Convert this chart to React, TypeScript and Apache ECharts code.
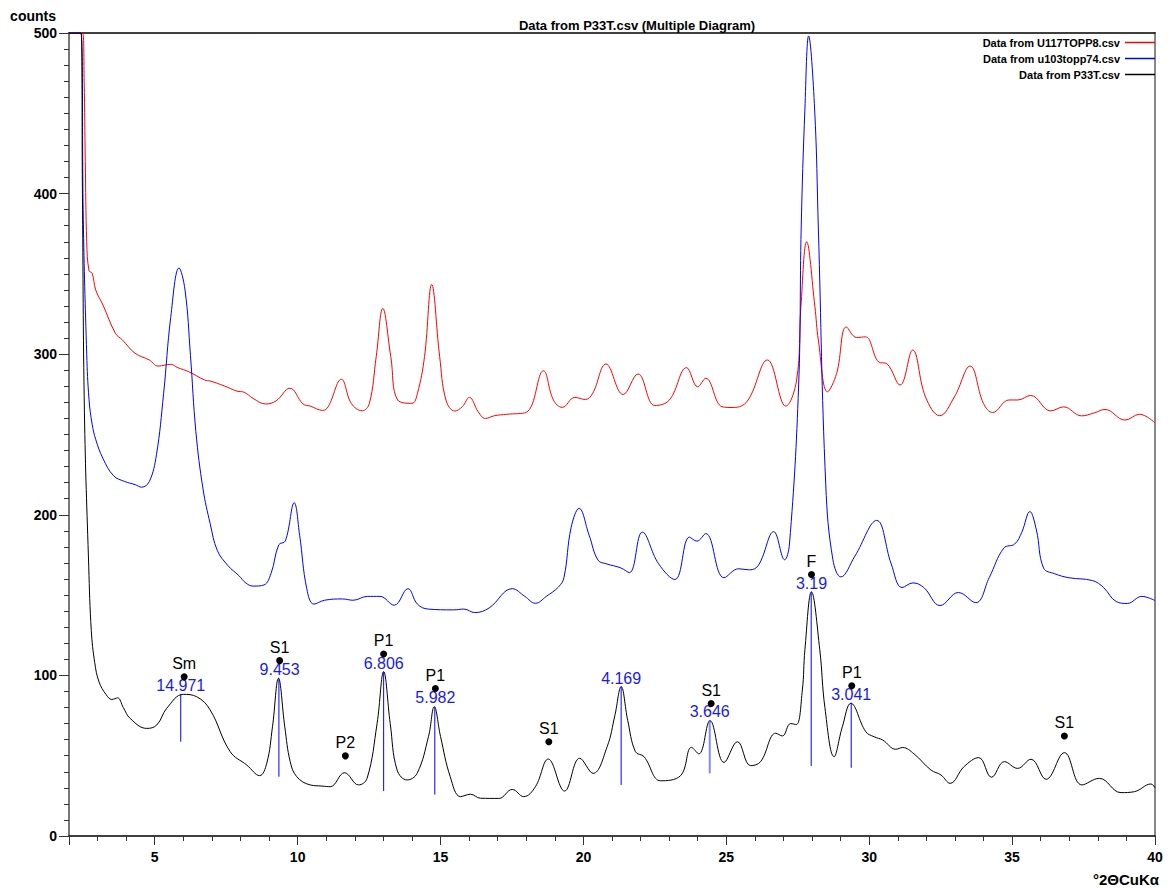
import React, { useEffect, useRef } from 'react';
import * as echarts from 'echarts';

const FONT = '"Liberation Sans", Arial, Helvetica, sans-serif';

// Series names
const seriesNames = ['Data from U117TOPP8.csv', 'Data from u103topp74.csv', 'Data from P33T.csv'];

// Red curve: U117TOPP8 (°2θ, counts)
const u117: [number, number][] = [
  [2, 500], [2.48, 500], [2.53, 470], [2.57, 420], [2.62, 370], [2.7, 352], [2.81, 350.4], [2.935, 340],
  [3.19, 330.6], [3.625, 313], [3.874, 308.8], [4.31, 300.6], [4.81, 296.4], [5.12, 292.6], [5.56, 293.7],
  [5.81, 291.6], [6.19, 289.1], [6.75, 283.9], [6.94, 283.3], [7.44, 280.2], [7.88, 277], [8.13, 276.3],
  [8.44, 272.5], [8.88, 269], [9.25, 271], [9.73, 278.8], [10.19, 269], [10.44, 267.7], [10.88, 265],
  [11.07, 267.3], [11.53, 284.4], [11.88, 269.3], [12.26, 264.8], [12.51, 269.3], [12.75, 298.5],
  [12.98, 328.5], [13.26, 298.5], [13.5, 271.5], [14.0, 269.4], [14.19, 275.5], [14.44, 298.5],
  [14.69, 343.4], [14.97, 298.5], [15.19, 271.5], [15.5, 264.6], [15.76, 267.3], [16.01, 273.1],
  [16.32, 264.1], [16.57, 260], [16.89, 261.7], [17.32, 262.6], [18.0, 263.8], [18.6, 289.7],
  [18.95, 271.5], [19.26, 266.9], [19.7, 273.1], [20.07, 271.8], [20.32, 275.5], [20.79, 293.9],
  [21.39, 274.9], [21.91, 287.7], [22.5, 268], [23.01, 271.5], [23.61, 291.6], [24.0, 279.7],
  [24.28, 285], [24.85, 267.3], [25.24, 266.8], [25.74, 270.9], [26.44, 296.4], [27.08, 267.7],
  [27.46, 283.9], [27.61, 329.5], [27.81, 370], [28.1, 329.5], [28.22, 308.8], [28.54, 276.6],
  [28.86, 288], [29.2, 317], [29.56, 310.4], [29.87, 310.8], [30.32, 295.3], [30.63, 293.9],
  [31.08, 280.8], [31.52, 302.6], [31.97, 273.4], [32.47, 261.7], [32.98, 273.4], [33.53, 292.6],
  [34.0, 269.3], [34.32, 263.7], [34.89, 271.5], [35.2, 271.5], [35.65, 274.3], [36.35, 264.7],
  [36.8, 267.2], [37.43, 261.6], [37.88, 263.5], [38.25, 265.6], [38.95, 259], [39.46, 262.6],
  [40, 257.2],
];

// Blue curve: u103topp74
const u103: [number, number][] = [
  [2, 500], [2.42, 500], [2.5, 384], [2.62, 300], [2.7, 272], [2.81, 256.4], [2.935, 246.9], [3.19, 235],
  [3.56, 224.3], [3.94, 220.8], [4.31, 218.8], [4.54, 217.2], [4.81, 220.7], [5.06, 237.4], [5.31, 275.4],
  [5.56, 323], [5.85, 353.7], [6.06, 340], [6.25, 299.3], [6.44, 251.7], [6.69, 216], [6.94, 194.5],
  [7.19, 177.8], [7.57, 168.2], [7.94, 162.2], [8.19, 157.5], [8.44, 155.6], [8.82, 156.3], [9.07, 163.5],
  [9.34, 181.3], [9.57, 183.7], [9.88, 207.5], [10.07, 187.3], [10.32, 154], [10.57, 144.4],
  [10.94, 146.8], [11.57, 147.6], [11.94, 146.8], [12.44, 149.2], [12.88, 149.2], [13.38, 143.7],
  [13.86, 154], [14.19, 144.4], [14.57, 141.3], [15.45, 140.8], [15.82, 141.3], [16.2, 139.1],
  [16.7, 142], [17.51, 154], [17.95, 149.2], [18.32, 144.9], [18.7, 149.2], [19.13, 155.1], [19.32, 161],
  [19.57, 192.1], [19.85, 204], [20.2, 187.3], [20.51, 171.8], [20.82, 169.4], [21.3, 167], [21.61, 164],
  [22.06, 189.2], [22.63, 169.5], [23.2, 159.7], [23.71, 186.1], [23.97, 183.6], [24.28, 188.3],
  [24.92, 160.8], [25.43, 166.4], [25.81, 165.7], [26.13, 168.7], [26.66, 189.5], [27.04, 172],
  [27.21, 181.8], [27.53, 280.2], [27.62, 378.6], [27.75, 452.7], [27.88, 498.2], [28.09, 452.7],
  [28.22, 378.6], [28.48, 218.6], [28.73, 172], [29.01, 161.3], [29.5, 174.3], [30.26, 196.5],
  [30.77, 169.4], [31.15, 154.7], [31.53, 157.6], [31.91, 154.7], [32.48, 143.5], [33.12, 151.6],
  [33.73, 145.3], [34.2, 160.9], [34.71, 179.3], [35.09, 181.8], [35.34, 189.2], [35.62, 202],
  [35.85, 190.5], [36.1, 166.9], [36.49, 163.3], [36.99, 160.8], [37.82, 159], [38.2, 154.7],
  [38.64, 146], [39.03, 144.8], [39.54, 149.2], [40, 146.6],
];

// Black curve: P33T
const p33t: [number, number][] = [
  [2, 500], [2.42, 500], [2.47, 400], [2.54, 263.5], [2.69, 168], [2.78, 128], [2.9, 108], [3.05, 96],
  [3.3, 88], [3.5, 85], [3.7, 86], [3.9, 80], [4.14, 73.2], [4.72, 67], [5.07, 69.1], [5.42, 79.5],
  [6.0, 88.2], [6.47, 86.7], [6.94, 78.5], [7.64, 52.5], [8.22, 44.2], [8.67, 37.6], [8.92, 45.3],
  [9.12, 68], [9.33, 98.2], [9.55, 68], [9.74, 46.3], [9.97, 36.9], [10.44, 31.8], [10.85, 31.1],
  [11.14, 30.7], [11.64, 39.4], [12.13, 31.8], [12.43, 35.9], [12.78, 70], [13.01, 102.3], [13.24, 70],
  [13.48, 41.1], [13.83, 34.9], [14.18, 39], [14.58, 62], [14.78, 80.5], [15.0, 62], [15.34, 36.9],
  [15.7, 24.5], [16.05, 26], [16.4, 23.5], [17.04, 23.4], [17.51, 29], [17.91, 24.5], [18.32, 30.7],
  [18.77, 47.9], [19.34, 28], [19.87, 48.4], [20.34, 39], [20.83, 55.6], [21.1, 75], [21.32, 93],
  [21.55, 72], [21.82, 52.5], [22.12, 49.4], [22.7, 34.4], [23.4, 37.6], [23.78, 55.2], [24.04, 51.1],
  [24.43, 71.8], [24.92, 45.8], [25.39, 58.7], [25.85, 43.8], [26.2, 46.3], [26.73, 64], [26.96, 62.3],
  [27.25, 70], [27.45, 69.4], [27.66, 90.9], [27.75, 116], [27.98, 152], [28.27, 116], [28.45, 80],
  [28.77, 49.4], [29.06, 68], [29.36, 82.6], [29.88, 64.9], [30.17, 61.8], [30.47, 59.8], [30.93, 54],
  [31.17, 55.1], [31.57, 51.1], [32.16, 41.1], [32.51, 38], [32.83, 32.8], [33.32, 43.2], [33.83, 48.8],
  [34.28, 36.6], [34.73, 46.3], [35.19, 42.1], [35.66, 47.8], [36.19, 35.3], [36.83, 51.9],
  [37.44, 31.8], [38.05, 35.9], [38.81, 27], [39.28, 27.6], [39.86, 32.4], [40, 30],
];

// d-spacing marker lines: position, bottom, top
const dLineX = [5.91, 9.345, 13.01, 14.8, 21.32, 24.42, 27.97, 29.37];
const dLineBottom = [58.7, 36.9, 28, 25.8, 31.8, 39, 43.6, 42.5];
const dLineTop = [88.4, 98.1, 102.3, 80.4, 93, 72.2, 152, 83];

// d-spacing labels
const dText = ['14.971', '9.453', '6.806', '5.982', '4.169', '3.646', '3.19', '3.041'];
const dTextX = [5.91, 9.37, 13.01, 14.82, 21.32, 24.42, 27.98, 29.37];
const dTextY = [93.6, 103.4, 107.6, 86.1, 98.1, 77.4, 157.2, 87.8];

// Mineral identification marks
const mineral = ['Sm', 'S1', 'P2', 'P1', 'P1', 'S1', 'S1', 'F', 'P1', 'S1'];
const mineralX = [6.03, 9.37, 11.67, 13.01, 14.82, 18.79, 24.47, 27.98, 29.39, 36.83];
const mineralY = [99.1, 109.2, 49.9, 113.3, 91.8, 58.7, 82.5, 162.8, 93.5, 62.3];

// Axis ticks
const xMajor = [2, 5, 10, 15, 20, 25, 30, 35, 40];
const xLabels = [5, 10, 15, 20, 25, 30, 35, 40];
const xMinor = [3, 4, 6, 7, 8, 9, 11, 12, 13, 14, 16, 17, 18, 19, 21, 22, 23, 24, 26, 27, 28, 29, 31, 32, 33, 34, 36, 37, 38, 39];

export default function App() {
  const ref = useRef<HTMLDivElement>(null);
  useEffect(() => {
    const chart = echarts.init(ref.current!, null, { renderer: 'svg' });
    const lineBase = (name: string, data: [number, number][], color: string, z: number) => ({
      name,
      type: 'line',
      data,
      symbol: 'none',
      smooth: 0.4,
      z,
      color,
      lineStyle: { color, width: 1 },
      itemStyle: { color },
      clip: true,
    });
    const option: any = {
      animation: false,
      backgroundColor: '#ffffff',
      textStyle: { fontFamily: FONT },
      title: {
        text: 'Data from P33T.csv (Multiple Diagram)',
        left: 632,
        top: 14,
        textAlign: 'center',
        textStyle: { fontFamily: FONT, fontSize: 13, fontWeight: 'bold', color: '#000' },
      },
      legend: {
        data: seriesNames,
        orient: 'vertical',
        right: 14,
        top: 37,
        align: 'right',
        icon: 'rect',
        itemWidth: 30,
        itemHeight: 1.5,
        itemGap: 5,
        padding: 0,
        textStyle: { fontFamily: FONT, fontSize: 11, fontWeight: 'bold', color: '#000', lineHeight: 11 },
      },
      grid: { left: 69, right: 14, top: 33, bottom: 57, containLabel: false },
      xAxis: [
        {
          type: 'value', min: 2, max: 40, position: 'bottom',
          name: '°2ΘCuKα', nameLocation: 'end', nameGap: 4,
          nameTextStyle: { fontFamily: FONT, fontSize: 15, fontWeight: 'bold', color: '#000', align: 'right', verticalAlign: 'top', padding: [36, 0, 0, 0] },
          axisLine: { show: true, lineStyle: { color: '#000', width: 1.5 } },
          axisTick: { show: true, customValues: xMajor, length: 9, lineStyle: { color: '#333', width: 1 } },
          axisLabel: { customValues: xLabels, fontFamily: FONT, fontSize: 14, fontWeight: 'bold', color: '#000', margin: 14 },
          splitLine: { show: false },
        },
        {
          type: 'value', min: 2, max: 40, position: 'bottom',
          axisLine: { show: false },
          axisTick: { show: true, customValues: xMinor, length: 5, lineStyle: { color: '#333', width: 1 } },
          axisLabel: { show: false },
          splitLine: { show: false },
        },
        {
          type: 'value', min: 2, max: 40, position: 'top',
          axisLine: { show: true, lineStyle: { color: '#000', width: 1.5 } },
          axisTick: { show: false }, axisLabel: { show: false }, splitLine: { show: false },
        },
      ],
      yAxis: [
        {
          type: 'value', min: 0, max: 500, interval: 100, position: 'left',
          name: 'counts', nameLocation: 'end', nameGap: 10,
          nameTextStyle: { fontFamily: FONT, fontSize: 14, fontWeight: 'bold', color: '#000', align: 'right', padding: [0, 13, 0, 0] },
          axisLine: { show: true, lineStyle: { color: '#777', width: 2 } },
          axisTick: { show: true, length: 10, lineStyle: { color: '#333', width: 1 } },
          minorTick: { show: true, splitNumber: 10, length: 5, lineStyle: { color: '#333', width: 1 } },
          axisLabel: { fontFamily: FONT, fontSize: 14, fontWeight: 'bold', color: '#000', margin: 12 },
          splitLine: { show: false },
          minorSplitLine: { show: false },
        },
        {
          type: 'value', min: 0, max: 500, position: 'right',
          axisLine: { show: true, lineStyle: { color: '#888', width: 2 } },
          axisTick: { show: false }, axisLabel: { show: false }, splitLine: { show: false },
        },
      ],
      series: [
        lineBase(seriesNames[0], u117, '#ff0000', 2),
        lineBase(seriesNames[1], u103, '#0000ff', 3),
        lineBase(seriesNames[2], p33t, '#000000', 4),
        {
          type: 'custom',
          name: 'd-spacing',
          z: 10,
          silent: true,
          clip: true,
          encode: { x: 0, y: [1, 2] },
          data: dLineX.map((x, i) => [x, dLineBottom[i], dLineTop[i], i === 5 ? 1 : 0]),
          renderItem: (params: any, api: any) => {
            const x = api.value(0);
            const a = api.coord([x, api.value(1)]);
            const b = api.coord([x, api.value(2)]);
            const soft = api.value(3) === 1;
            return {
              type: 'line',
              shape: { x1: a[0], y1: a[1], x2: b[0], y2: b[1] },
              style: soft
                ? { stroke: 'rgba(70,70,255,0.65)', lineWidth: 2 }
                : { stroke: '#0000ff', lineWidth: 1 },
            };
          },
        },
        {
          type: 'scatter',
          z: 11,
          symbol: 'circle',
          symbolSize: 0.1,
          silent: true,
          itemStyle: { color: 'rgba(0,0,0,0)', opacity: 1 },
          label: {
            show: true, position: 'inside',
            formatter: (p: any) => p.value[2],
            fontFamily: FONT, fontSize: 16, color: '#1a1ae8', textBorderWidth: 0, opacity: 1,
          },
          data: dTextX.map((x, i) => [x, dTextY[i], dText[i]]),
        },
        {
          type: 'scatter',
          z: 12,
          symbol: 'circle',
          symbolSize: 7,
          silent: true,
          itemStyle: { color: '#000', opacity: 1 },
          label: {
            show: true, position: 'top', distance: 2,
            formatter: (p: any) => p.value[2],
            fontFamily: FONT, fontSize: 16, color: '#000', opacity: 1,
          },
          data: mineralX.map((x, i) => [x, mineralY[i], mineral[i]]),
        },
      ],
    };
    chart.setOption(option);
    return () => chart.dispose();
  }, []);
  return <div ref={ref} style={{ position: 'absolute', left: 0, top: 0, width: 1169, height: 893 }} />;
}
